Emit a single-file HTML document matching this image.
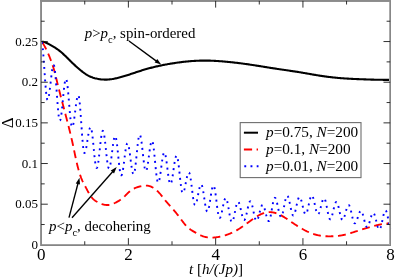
<!DOCTYPE html>
<html><head><meta charset="utf-8"><title>plot</title>
<style>
html,body{margin:0;padding:0;background:#fff;}
body{width:395px;height:278px;overflow:hidden;font-family:"Liberation Serif",serif;}
svg{display:block;will-change:transform;}
</style></head>
<body>
<svg width="395" height="278" viewBox="0 0 395 278" font-family="'Liberation Serif', serif" fill="#000">
<rect x="0" y="0" width="395" height="278" fill="#fff"/>
<g fill="none" stroke-linejoin="round">
<path d="M41.50 41.70 L42.37 41.74 L43.25 41.87 L44.12 42.07 L45.00 42.33 L45.87 42.65 L46.74 43.02 L47.62 43.44 L48.49 43.88 L49.37 44.35 L50.24 44.84 L51.11 45.34 L51.99 45.84 L52.86 46.35 L53.74 46.87 L54.61 47.41 L55.48 47.96 L56.36 48.53 L57.23 49.13 L58.10 49.75 L58.98 50.40 L59.85 51.08 L60.73 51.80 L61.60 52.54 L62.47 53.31 L63.35 54.11 L64.22 54.93 L65.10 55.77 L65.97 56.61 L66.84 57.47 L67.72 58.34 L68.59 59.21 L69.47 60.07 L70.34 60.93 L71.21 61.79 L72.09 62.64 L72.96 63.48 L73.84 64.30 L74.71 65.12 L75.58 65.93 L76.46 66.72 L77.33 67.51 L78.21 68.27 L79.08 69.02 L79.95 69.76 L80.83 70.48 L81.70 71.18 L82.57 71.86 L83.45 72.51 L84.32 73.15 L85.20 73.75 L86.07 74.32 L86.94 74.86 L87.82 75.37 L88.69 75.84 L89.57 76.28 L90.44 76.67 L91.31 77.04 L92.19 77.36 L93.06 77.66 L93.94 77.93 L94.81 78.18 L95.68 78.40 L96.56 78.60 L97.43 78.79 L98.31 78.95 L99.18 79.10 L100.05 79.23 L100.93 79.35 L101.80 79.44 L102.68 79.51 L103.55 79.57 L104.42 79.60 L105.30 79.61 L106.17 79.61 L107.05 79.58 L107.92 79.54 L108.79 79.47 L109.67 79.39 L110.54 79.30 L111.41 79.18 L112.29 79.06 L113.16 78.91 L114.04 78.75 L114.91 78.58 L115.78 78.40 L116.66 78.20 L117.53 78.00 L118.41 77.78 L119.28 77.55 L120.15 77.32 L121.03 77.08 L121.90 76.83 L122.78 76.57 L123.65 76.31 L124.52 76.05 L125.40 75.78 L126.27 75.50 L127.15 75.23 L128.02 74.95 L128.89 74.66 L129.77 74.38 L130.64 74.09 L131.52 73.80 L132.39 73.51 L133.26 73.22 L134.14 72.93 L135.01 72.64 L135.88 72.35 L136.76 72.06 L137.63 71.78 L138.51 71.49 L139.38 71.21 L140.25 70.93 L141.13 70.65 L142.00 70.37 L142.88 70.10 L143.75 69.83 L144.62 69.57 L145.50 69.31 L146.37 69.06 L147.25 68.81 L148.12 68.57 L148.99 68.33 L149.87 68.09 L150.74 67.86 L151.62 67.64 L152.49 67.42 L153.36 67.20 L154.24 66.99 L155.11 66.78 L155.99 66.57 L156.86 66.37 L157.73 66.18 L158.61 65.98 L159.48 65.79 L160.36 65.61 L161.23 65.43 L162.10 65.25 L162.98 65.07 L163.85 64.90 L164.72 64.73 L165.60 64.57 L166.47 64.41 L167.35 64.25 L168.22 64.09 L169.09 63.94 L169.97 63.79 L170.84 63.65 L171.72 63.50 L172.59 63.36 L173.46 63.22 L174.34 63.09 L175.21 62.96 L176.09 62.83 L176.96 62.70 L177.83 62.58 L178.71 62.46 L179.58 62.34 L180.46 62.22 L181.33 62.11 L182.20 62.00 L183.08 61.90 L183.95 61.80 L184.83 61.70 L185.70 61.61 L186.57 61.52 L187.45 61.43 L188.32 61.35 L189.19 61.27 L190.07 61.19 L190.94 61.12 L191.82 61.06 L192.69 61.00 L193.56 60.94 L194.44 60.89 L195.31 60.84 L196.19 60.79 L197.06 60.75 L197.93 60.72 L198.81 60.69 L199.68 60.66 L200.56 60.64 L201.43 60.62 L202.30 60.60 L203.18 60.59 L204.05 60.59 L204.93 60.59 L205.80 60.59 L206.67 60.60 L207.55 60.61 L208.42 60.62 L209.30 60.64 L210.17 60.67 L211.04 60.70 L211.92 60.73 L212.79 60.77 L213.67 60.80 L214.54 60.85 L215.41 60.89 L216.29 60.94 L217.16 61.00 L218.03 61.05 L218.91 61.11 L219.78 61.18 L220.66 61.24 L221.53 61.31 L222.40 61.38 L223.28 61.45 L224.15 61.53 L225.03 61.60 L225.90 61.68 L226.77 61.76 L227.65 61.85 L228.52 61.93 L229.40 62.02 L230.27 62.11 L231.14 62.20 L232.02 62.29 L232.89 62.39 L233.77 62.49 L234.64 62.59 L235.51 62.69 L236.39 62.79 L237.26 62.90 L238.14 63.00 L239.01 63.11 L239.88 63.22 L240.76 63.33 L241.63 63.45 L242.51 63.56 L243.38 63.68 L244.25 63.80 L245.13 63.92 L246.00 64.04 L246.87 64.16 L247.75 64.28 L248.62 64.41 L249.50 64.54 L250.37 64.67 L251.24 64.80 L252.12 64.93 L252.99 65.06 L253.87 65.19 L254.74 65.33 L255.61 65.47 L256.49 65.60 L257.36 65.74 L258.24 65.88 L259.11 66.02 L259.98 66.16 L260.86 66.30 L261.73 66.44 L262.61 66.58 L263.48 66.72 L264.35 66.86 L265.23 67.00 L266.10 67.14 L266.98 67.28 L267.85 67.42 L268.72 67.56 L269.60 67.70 L270.47 67.84 L271.34 67.98 L272.22 68.12 L273.09 68.25 L273.97 68.39 L274.84 68.52 L275.71 68.66 L276.59 68.79 L277.46 68.92 L278.34 69.05 L279.21 69.18 L280.08 69.31 L280.96 69.44 L281.83 69.57 L282.71 69.69 L283.58 69.82 L284.45 69.95 L285.33 70.07 L286.20 70.20 L287.08 70.33 L287.95 70.45 L288.82 70.58 L289.70 70.71 L290.57 70.84 L291.45 70.97 L292.32 71.10 L293.19 71.23 L294.07 71.36 L294.94 71.50 L295.82 71.63 L296.69 71.77 L297.56 71.91 L298.44 72.05 L299.31 72.19 L300.18 72.33 L301.06 72.48 L301.93 72.62 L302.81 72.77 L303.68 72.92 L304.55 73.07 L305.43 73.22 L306.30 73.38 L307.18 73.53 L308.05 73.68 L308.92 73.84 L309.80 73.99 L310.67 74.14 L311.55 74.29 L312.42 74.45 L313.29 74.60 L314.17 74.75 L315.04 74.90 L315.92 75.04 L316.79 75.19 L317.66 75.33 L318.54 75.47 L319.41 75.61 L320.29 75.74 L321.16 75.88 L322.03 76.01 L322.91 76.13 L323.78 76.26 L324.65 76.38 L325.53 76.50 L326.40 76.62 L327.28 76.73 L328.15 76.84 L329.02 76.95 L329.90 77.06 L330.77 77.16 L331.65 77.26 L332.52 77.36 L333.39 77.45 L334.27 77.54 L335.14 77.63 L336.02 77.72 L336.89 77.80 L337.76 77.89 L338.64 77.96 L339.51 78.04 L340.39 78.11 L341.26 78.19 L342.13 78.25 L343.01 78.32 L343.88 78.38 L344.76 78.44 L345.63 78.50 L346.50 78.56 L347.38 78.61 L348.25 78.66 L349.13 78.71 L350.00 78.76 L350.87 78.80 L351.75 78.84 L352.62 78.89 L353.49 78.93 L354.37 78.97 L355.24 79.00 L356.12 79.04 L356.99 79.08 L357.86 79.11 L358.74 79.15 L359.61 79.18 L360.49 79.22 L361.36 79.25 L362.23 79.29 L363.11 79.32 L363.98 79.36 L364.86 79.39 L365.73 79.42 L366.60 79.46 L367.48 79.49 L368.35 79.52 L369.23 79.55 L370.10 79.57 L370.97 79.60 L371.85 79.62 L372.72 79.65 L373.60 79.67 L374.47 79.69 L375.34 79.71 L376.22 79.72 L377.09 79.74 L377.96 79.76 L378.84 79.77 L379.71 79.78 L380.59 79.80 L381.46 79.81 L382.33 79.82 L383.21 79.83 L384.08 79.84 L384.96 79.85 L385.83 79.86 L386.70 79.87 L387.58 79.88 L388.45 79.88 L389.33 79.89 L390.20 79.90" stroke="#000" stroke-width="2.1"/>
<path d="M41.50 41.40 L41.94 41.98 L42.37 42.60 L42.81 43.24 L43.25 43.92 L43.68 44.63 L44.12 45.37 L44.55 46.14 L44.99 46.94 L45.43 47.77 L45.86 48.62 L46.30 49.50 L46.74 50.41 L47.17 51.35 L47.61 52.31 L48.05 53.29 L48.48 54.30 L48.92 55.34 L49.36 56.40 L49.79 57.48 L50.23 58.58 L50.66 59.71 L51.10 60.86 L51.54 62.06 L51.97 63.29 L52.41 64.57 L52.85 65.90 L53.28 67.29 L53.72 68.74 L54.16 70.25 L54.59 71.84 L55.03 73.50 L55.47 75.22 L55.90 76.98 L56.34 78.77 L56.77 80.56 L57.21 82.35 L57.65 84.13 L58.08 85.89 L58.52 87.63 L58.96 89.36 L59.39 91.08 L59.83 92.78 L60.27 94.48 L60.70 96.17 L61.14 97.85 L61.58 99.53 L62.01 101.20 L62.45 102.87 L62.88 104.53 L63.32 106.20 L63.76 107.86 L64.19 109.52 L64.63 111.18 L65.07 112.84 L65.50 114.51 L65.94 116.18 L66.38 117.85 L66.81 119.53 L67.25 121.22 L67.69 122.91 L68.12 124.62 L68.56 126.33 L68.99 128.06 L69.43 129.80 L69.87 131.57 L70.30 133.35 L70.74 135.16 L71.18 137.01 L71.61 138.89 L72.05 140.81 L72.49 142.78 L72.92 144.79 L73.36 146.84 L73.80 148.92 L74.23 151.02 L74.67 153.11 L75.10 155.19 L75.54 157.24 L75.98 159.26 L76.41 161.22 L76.85 163.12 L77.29 164.94 L77.72 166.70 L78.16 168.38 L78.60 169.99 L79.03 171.53 L79.47 172.99 L79.91 174.37 L80.34 175.67 L80.78 176.89 L81.21 178.03 L81.65 179.10 L82.09 180.11 L82.52 181.07 L82.96 181.99 L83.40 182.86 L83.83 183.72 L84.27 184.55 L84.71 185.37 L85.14 186.19 L85.58 187.02 L86.01 187.85 L86.45 188.68 L86.89 189.51 L87.32 190.33 L87.76 191.14 L88.20 191.94 L88.63 192.72 L89.07 193.48 L89.51 194.21 L89.94 194.92 L90.38 195.60 L90.82 196.24 L91.25 196.84 L91.69 197.39 L92.12 197.91 L92.56 198.39 L93.00 198.84 L93.43 199.25 L93.87 199.64 L94.31 200.00 L94.74 200.33 L95.18 200.65 L95.62 200.95 L96.05 201.23 L96.49 201.51 L96.93 201.77 L97.36 202.02 L97.80 202.27 L98.23 202.50 L98.67 202.72 L99.11 202.93 L99.54 203.13 L99.98 203.32 L100.42 203.51 L100.85 203.68 L101.29 203.85 L101.73 204.00 L102.16 204.15 L102.60 204.28 L103.04 204.41 L103.47 204.52 L103.91 204.62 L104.34 204.72 L104.78 204.80 L105.22 204.87 L105.65 204.92 L106.09 204.97 L106.53 205.00 L106.96 205.02 L107.40 205.03 L107.84 205.02 L108.27 205.00 L108.71 204.97 L109.15 204.92 L109.58 204.86 L110.02 204.78 L110.45 204.69 L110.89 204.58 L111.33 204.45 L111.76 204.31 L112.20 204.16 L112.64 203.99 L113.07 203.81 L113.51 203.62 L113.95 203.42 L114.38 203.21 L114.82 203.00 L115.26 202.78 L115.69 202.55 L116.13 202.33 L116.56 202.10 L117.00 201.87 L117.44 201.63 L117.87 201.39 L118.31 201.14 L118.75 200.88 L119.18 200.61 L119.62 200.34 L120.06 200.05 L120.49 199.76 L120.93 199.45 L121.36 199.13 L121.80 198.79 L122.24 198.45 L122.67 198.08 L123.11 197.70 L123.55 197.31 L123.98 196.90 L124.42 196.48 L124.86 196.05 L125.29 195.61 L125.73 195.17 L126.17 194.73 L126.60 194.29 L127.04 193.85 L127.47 193.42 L127.91 193.00 L128.35 192.58 L128.78 192.18 L129.22 191.80 L129.66 191.43 L130.09 191.07 L130.53 190.74 L130.97 190.41 L131.40 190.11 L131.84 189.82 L132.28 189.54 L132.71 189.27 L133.15 189.02 L133.58 188.78 L134.02 188.56 L134.46 188.34 L134.89 188.14 L135.33 187.94 L135.77 187.76 L136.20 187.59 L136.64 187.42 L137.08 187.27 L137.51 187.12 L137.95 186.99 L138.39 186.86 L138.82 186.73 L139.26 186.62 L139.69 186.51 L140.13 186.41 L140.57 186.31 L141.00 186.22 L141.44 186.14 L141.88 186.06 L142.31 185.98 L142.75 185.91 L143.19 185.84 L143.62 185.78 L144.06 185.72 L144.50 185.67 L144.93 185.63 L145.37 185.60 L145.80 185.58 L146.24 185.58 L146.68 185.59 L147.11 185.62 L147.55 185.67 L147.99 185.74 L148.42 185.82 L148.86 185.92 L149.30 186.03 L149.73 186.16 L150.17 186.31 L150.61 186.47 L151.04 186.65 L151.48 186.85 L151.91 187.06 L152.35 187.29 L152.79 187.53 L153.22 187.79 L153.66 188.06 L154.10 188.35 L154.53 188.66 L154.97 188.97 L155.41 189.31 L155.84 189.66 L156.28 190.02 L156.72 190.40 L157.15 190.80 L157.59 191.21 L158.02 191.64 L158.46 192.08 L158.90 192.54 L159.33 193.01 L159.77 193.51 L160.21 194.01 L160.64 194.53 L161.08 195.06 L161.52 195.60 L161.95 196.15 L162.39 196.71 L162.82 197.26 L163.26 197.83 L163.70 198.39 L164.13 198.95 L164.57 199.51 L165.01 200.06 L165.44 200.61 L165.88 201.14 L166.32 201.67 L166.75 202.20 L167.19 202.71 L167.63 203.22 L168.06 203.73 L168.50 204.23 L168.93 204.72 L169.37 205.21 L169.81 205.70 L170.24 206.19 L170.68 206.68 L171.12 207.16 L171.55 207.65 L171.99 208.14 L172.43 208.62 L172.86 209.12 L173.30 209.61 L173.74 210.11 L174.17 210.61 L174.61 211.12 L175.04 211.63 L175.48 212.15 L175.92 212.67 L176.35 213.21 L176.79 213.75 L177.23 214.30 L177.66 214.85 L178.10 215.42 L178.54 215.99 L178.97 216.58 L179.41 217.16 L179.85 217.75 L180.28 218.35 L180.72 218.94 L181.15 219.53 L181.59 220.12 L182.03 220.71 L182.46 221.29 L182.90 221.86 L183.34 222.43 L183.77 222.98 L184.21 223.53 L184.65 224.06 L185.08 224.57 L185.52 225.07 L185.96 225.55 L186.39 226.01 L186.83 226.46 L187.26 226.88 L187.70 227.29 L188.14 227.68 L188.57 228.06 L189.01 228.42 L189.45 228.77 L189.88 229.10 L190.32 229.42 L190.76 229.74 L191.19 230.04 L191.63 230.33 L192.07 230.61 L192.50 230.88 L192.94 231.15 L193.37 231.41 L193.81 231.67 L194.25 231.92 L194.68 232.16 L195.12 232.41 L195.56 232.65 L195.99 232.89 L196.43 233.13 L196.87 233.36 L197.30 233.60 L197.74 233.84 L198.17 234.07 L198.61 234.30 L199.05 234.52 L199.48 234.74 L199.92 234.96 L200.36 235.17 L200.79 235.37 L201.23 235.57 L201.67 235.75 L202.10 235.93 L202.54 236.10 L202.98 236.26 L203.41 236.41 L203.85 236.55 L204.28 236.68 L204.72 236.80 L205.16 236.91 L205.59 237.02 L206.03 237.11 L206.47 237.19 L206.90 237.27 L207.34 237.34 L207.78 237.40 L208.21 237.45 L208.65 237.49 L209.09 237.53 L209.52 237.56 L209.96 237.58 L210.39 237.60 L210.83 237.61 L211.27 237.61 L211.70 237.61 L212.14 237.60 L212.58 237.59 L213.01 237.57 L213.45 237.55 L213.89 237.52 L214.32 237.49 L214.76 237.45 L215.20 237.41 L215.63 237.37 L216.07 237.32 L216.50 237.26 L216.94 237.21 L217.38 237.14 L217.81 237.08 L218.25 237.01 L218.69 236.93 L219.12 236.85 L219.56 236.77 L220.00 236.68 L220.43 236.59 L220.87 236.49 L221.31 236.39 L221.74 236.29 L222.18 236.18 L222.61 236.07 L223.05 235.96 L223.49 235.84 L223.92 235.71 L224.36 235.58 L224.80 235.45 L225.23 235.32 L225.67 235.18 L226.11 235.03 L226.54 234.89 L226.98 234.74 L227.42 234.58 L227.85 234.42 L228.29 234.26 L228.72 234.09 L229.16 233.92 L229.60 233.75 L230.03 233.57 L230.47 233.38 L230.91 233.19 L231.34 233.00 L231.78 232.81 L232.22 232.61 L232.65 232.40 L233.09 232.19 L233.53 231.98 L233.96 231.76 L234.40 231.54 L234.83 231.31 L235.27 231.08 L235.71 230.84 L236.14 230.60 L236.58 230.35 L237.02 230.10 L237.45 229.85 L237.89 229.59 L238.33 229.32 L238.76 229.05 L239.20 228.78 L239.63 228.50 L240.07 228.22 L240.51 227.93 L240.94 227.64 L241.38 227.35 L241.82 227.05 L242.25 226.75 L242.69 226.45 L243.13 226.15 L243.56 225.84 L244.00 225.53 L244.44 225.22 L244.87 224.90 L245.31 224.59 L245.74 224.27 L246.18 223.95 L246.62 223.64 L247.05 223.32 L247.49 223.00 L247.93 222.68 L248.36 222.36 L248.80 222.03 L249.24 221.71 L249.67 221.39 L250.11 221.08 L250.55 220.76 L250.98 220.44 L251.42 220.13 L251.85 219.81 L252.29 219.50 L252.73 219.19 L253.16 218.88 L253.60 218.58 L254.04 218.28 L254.47 217.98 L254.91 217.69 L255.35 217.40 L255.78 217.12 L256.22 216.84 L256.66 216.56 L257.09 216.29 L257.53 216.03 L257.96 215.78 L258.40 215.53 L258.84 215.29 L259.27 215.05 L259.71 214.82 L260.15 214.60 L260.58 214.39 L261.02 214.19 L261.46 214.00 L261.89 213.81 L262.33 213.64 L262.77 213.47 L263.20 213.32 L263.64 213.17 L264.07 213.03 L264.51 212.90 L264.95 212.78 L265.38 212.67 L265.82 212.57 L266.26 212.49 L266.69 212.41 L267.13 212.34 L267.57 212.28 L268.00 212.23 L268.44 212.19 L268.88 212.16 L269.31 212.14 L269.75 212.14 L270.18 212.14 L270.62 212.16 L271.06 212.18 L271.49 212.22 L271.93 212.26 L272.37 212.32 L272.80 212.39 L273.24 212.47 L273.68 212.56 L274.11 212.66 L274.55 212.77 L274.98 212.88 L275.42 213.01 L275.86 213.15 L276.29 213.29 L276.73 213.44 L277.17 213.61 L277.60 213.78 L278.04 213.96 L278.48 214.14 L278.91 214.34 L279.35 214.54 L279.79 214.75 L280.22 214.96 L280.66 215.18 L281.09 215.41 L281.53 215.65 L281.97 215.89 L282.40 216.13 L282.84 216.39 L283.28 216.64 L283.71 216.91 L284.15 217.17 L284.59 217.44 L285.02 217.72 L285.46 218.00 L285.90 218.28 L286.33 218.56 L286.77 218.85 L287.20 219.14 L287.64 219.43 L288.08 219.73 L288.51 220.02 L288.95 220.32 L289.39 220.62 L289.82 220.92 L290.26 221.22 L290.70 221.52 L291.13 221.82 L291.57 222.12 L292.01 222.42 L292.44 222.72 L292.88 223.02 L293.31 223.31 L293.75 223.61 L294.19 223.90 L294.62 224.19 L295.06 224.48 L295.50 224.77 L295.93 225.05 L296.37 225.34 L296.81 225.62 L297.24 225.90 L297.68 226.17 L298.12 226.45 L298.55 226.72 L298.99 226.99 L299.42 227.25 L299.86 227.52 L300.30 227.78 L300.73 228.04 L301.17 228.29 L301.61 228.55 L302.04 228.79 L302.48 229.04 L302.92 229.28 L303.35 229.52 L303.79 229.76 L304.23 229.99 L304.66 230.22 L305.10 230.45 L305.53 230.67 L305.97 230.88 L306.41 231.10 L306.84 231.31 L307.28 231.51 L307.72 231.72 L308.15 231.92 L308.59 232.11 L309.03 232.30 L309.46 232.49 L309.90 232.67 L310.34 232.84 L310.77 233.02 L311.21 233.19 L311.64 233.35 L312.08 233.51 L312.52 233.67 L312.95 233.82 L313.39 233.97 L313.83 234.11 L314.26 234.25 L314.70 234.38 L315.14 234.51 L315.57 234.63 L316.01 234.75 L316.44 234.87 L316.88 234.98 L317.32 235.08 L317.75 235.18 L318.19 235.28 L318.63 235.37 L319.06 235.45 L319.50 235.53 L319.94 235.61 L320.37 235.68 L320.81 235.75 L321.25 235.81 L321.68 235.87 L322.12 235.92 L322.55 235.97 L322.99 236.02 L323.43 236.06 L323.86 236.10 L324.30 236.14 L324.74 236.17 L325.17 236.20 L325.61 236.22 L326.05 236.24 L326.48 236.26 L326.92 236.28 L327.36 236.29 L327.79 236.30 L328.23 236.31 L328.66 236.31 L329.10 236.32 L329.54 236.32 L329.97 236.31 L330.41 236.31 L330.85 236.30 L331.28 236.29 L331.72 236.28 L332.16 236.27 L332.59 236.26 L333.03 236.24 L333.47 236.22 L333.90 236.20 L334.34 236.18 L334.77 236.15 L335.21 236.13 L335.65 236.09 L336.08 236.06 L336.52 236.02 L336.96 235.99 L337.39 235.94 L337.83 235.90 L338.27 235.85 L338.70 235.80 L339.14 235.75 L339.58 235.69 L340.01 235.63 L340.45 235.57 L340.88 235.50 L341.32 235.43 L341.76 235.35 L342.19 235.28 L342.63 235.19 L343.07 235.11 L343.50 235.02 L343.94 234.93 L344.38 234.83 L344.81 234.73 L345.25 234.63 L345.69 234.52 L346.12 234.41 L346.56 234.29 L346.99 234.18 L347.43 234.06 L347.87 233.93 L348.30 233.81 L348.74 233.68 L349.18 233.55 L349.61 233.42 L350.05 233.29 L350.49 233.15 L350.92 233.02 L351.36 232.88 L351.79 232.74 L352.23 232.60 L352.67 232.46 L353.10 232.31 L353.54 232.17 L353.98 232.03 L354.41 231.88 L354.85 231.74 L355.29 231.59 L355.72 231.45 L356.16 231.30 L356.60 231.16 L357.03 231.01 L357.47 230.87 L357.90 230.73 L358.34 230.59 L358.78 230.45 L359.21 230.31 L359.65 230.17 L360.09 230.03 L360.52 229.89 L360.96 229.76 L361.40 229.62 L361.83 229.49 L362.27 229.35 L362.71 229.22 L363.14 229.09 L363.58 228.95 L364.01 228.82 L364.45 228.69 L364.89 228.56 L365.32 228.44 L365.76 228.31 L366.20 228.18 L366.63 228.05 L367.07 227.92 L367.51 227.80 L367.94 227.67 L368.38 227.55 L368.82 227.42 L369.25 227.30 L369.69 227.17 L370.12 227.05 L370.56 226.92 L371.00 226.80 L371.43 226.68 L371.87 226.55 L372.31 226.43 L372.74 226.31 L373.18 226.19 L373.62 226.07 L374.05 225.95 L374.49 225.83 L374.93 225.71 L375.36 225.60 L375.80 225.49 L376.23 225.37 L376.67 225.26 L377.11 225.16 L377.54 225.05 L377.98 224.95 L378.42 224.84 L378.85 224.75 L379.29 224.65 L379.73 224.56 L380.16 224.47 L380.60 224.38 L381.04 224.29 L381.47 224.21 L381.91 224.13 L382.34 224.06 L382.78 223.99 L383.22 223.92 L383.65 223.86 L384.09 223.80 L384.53 223.75 L384.96 223.70 L385.40 223.66 L385.84 223.62 L386.27 223.58 L386.71 223.55 L387.15 223.52 L387.58 223.50 L388.02 223.49 L388.45 223.48 L388.89 223.48 L389.33 223.48 L389.76 223.49 L390.20 223.50" stroke="#f00" stroke-width="1.85" stroke-dasharray="7.9 4.64" stroke-dashoffset="-1.4"/>
<path d="M41.40 41.40 L41.66 41.65 L41.91 42.40 L42.17 43.63 L42.42 45.32 L42.68 47.44 L42.94 49.97 L43.19 52.84 L43.45 56.02 L43.70 59.46 L43.96 63.08 L44.22 66.83 L44.47 70.65 L44.73 74.47 L44.98 78.22 L45.24 81.84 L45.50 85.28 L45.75 88.46 L46.01 91.33 L46.26 93.86 L46.52 95.98 L46.78 97.67 L47.03 98.90 L47.29 99.65 L47.55 99.90 L47.80 99.75 L48.06 99.31 L48.31 98.58 L48.57 97.57 L48.83 96.30 L49.08 94.80 L49.34 93.09 L49.59 91.20 L49.85 89.16 L50.11 87.00 L50.36 84.77 L50.62 82.50 L50.87 80.23 L51.13 78.00 L51.39 75.84 L51.64 73.80 L51.90 71.91 L52.15 70.20 L52.41 68.70 L52.67 67.43 L52.92 66.42 L53.18 65.69 L53.43 65.25 L53.69 65.10 L53.95 65.34 L54.20 66.05 L54.46 67.21 L54.71 68.82 L54.97 70.83 L55.23 73.23 L55.48 75.96 L55.74 78.97 L55.99 82.23 L56.25 85.67 L56.51 89.23 L56.76 92.85 L57.02 96.47 L57.27 100.03 L57.53 103.47 L57.79 106.72 L58.04 109.74 L58.30 112.47 L58.55 114.87 L58.81 116.88 L59.07 118.49 L59.32 119.65 L59.58 120.36 L59.83 120.60 L60.09 120.42 L60.35 119.89 L60.60 119.01 L60.86 117.81 L61.12 116.29 L61.37 114.49 L61.63 112.44 L61.88 110.17 L62.14 107.73 L62.40 105.15 L62.65 102.47 L62.91 99.75 L63.16 97.03 L63.42 94.35 L63.68 91.77 L63.93 89.33 L64.19 87.06 L64.44 85.01 L64.70 83.21 L64.96 81.69 L65.21 80.49 L65.47 79.61 L65.72 79.08 L65.98 78.90 L66.24 79.11 L66.49 79.72 L66.75 80.73 L67.00 82.12 L67.26 83.87 L67.52 85.94 L67.77 88.31 L68.03 90.92 L68.28 93.75 L68.54 96.73 L68.80 99.81 L69.05 102.95 L69.31 106.09 L69.56 109.17 L69.82 112.15 L70.08 114.97 L70.33 117.59 L70.59 119.96 L70.84 122.03 L71.10 123.78 L71.36 125.17 L71.61 126.18 L71.87 126.79 L72.12 127.00 L72.38 126.86 L72.64 126.46 L72.89 125.79 L73.15 124.88 L73.41 123.72 L73.66 122.36 L73.92 120.80 L74.17 119.08 L74.43 117.22 L74.69 115.25 L74.94 113.22 L75.20 111.15 L75.45 109.08 L75.71 107.05 L75.97 105.08 L76.22 103.22 L76.48 101.50 L76.73 99.94 L76.99 98.58 L77.25 97.42 L77.50 96.51 L77.76 95.84 L78.01 95.44 L78.27 95.30 L78.53 95.55 L78.78 96.28 L79.04 97.50 L79.29 99.17 L79.55 101.26 L79.81 103.75 L80.06 106.59 L80.32 109.72 L80.57 113.11 L80.83 116.68 L81.09 120.38 L81.34 124.15 L81.60 127.92 L81.85 131.62 L82.11 135.19 L82.37 138.57 L82.62 141.71 L82.88 144.55 L83.13 147.04 L83.39 149.13 L83.65 150.80 L83.90 152.02 L84.16 152.75 L84.41 153.00 L84.67 152.89 L84.93 152.56 L85.18 152.02 L85.44 151.27 L85.70 150.33 L85.95 149.22 L86.21 147.95 L86.46 146.55 L86.72 145.04 L86.98 143.44 L87.23 141.78 L87.49 140.10 L87.74 138.42 L88.00 136.76 L88.26 135.16 L88.51 133.65 L88.77 132.25 L89.02 130.98 L89.28 129.87 L89.54 128.93 L89.79 128.18 L90.05 127.64 L90.30 127.31 L90.56 127.20 L90.82 127.37 L91.07 127.90 L91.33 128.75 L91.58 129.93 L91.84 131.42 L92.10 133.18 L92.35 135.18 L92.61 137.40 L92.86 139.79 L93.12 142.32 L93.38 144.94 L93.63 147.60 L93.89 150.26 L94.14 152.88 L94.40 155.41 L94.66 157.80 L94.91 160.02 L95.17 162.02 L95.42 163.78 L95.68 165.27 L95.94 166.45 L96.19 167.30 L96.45 167.83 L96.70 168.00 L96.96 167.84 L97.22 167.37 L97.47 166.58 L97.73 165.51 L97.99 164.16 L98.24 162.55 L98.50 160.72 L98.75 158.70 L99.01 156.52 L99.27 154.21 L99.52 151.83 L99.78 149.40 L100.03 146.97 L100.29 144.59 L100.55 142.28 L100.80 140.10 L101.06 138.08 L101.31 136.25 L101.57 134.64 L101.83 133.29 L102.08 132.22 L102.34 131.43 L102.59 130.96 L102.85 130.80 L103.11 130.96 L103.36 131.44 L103.62 132.23 L103.87 133.32 L104.13 134.68 L104.39 136.31 L104.64 138.16 L104.90 140.20 L105.15 142.41 L105.41 144.73 L105.67 147.15 L105.92 149.60 L106.18 152.05 L106.43 154.47 L106.69 156.79 L106.95 159.00 L107.20 161.04 L107.46 162.89 L107.71 164.52 L107.97 165.88 L108.23 166.97 L108.48 167.76 L108.74 168.24 L109.00 168.40 L109.25 168.26 L109.51 167.85 L109.76 167.17 L110.02 166.24 L110.28 165.06 L110.53 163.67 L110.79 162.08 L111.04 160.33 L111.30 158.43 L111.56 156.43 L111.81 154.36 L112.07 152.25 L112.32 150.14 L112.58 148.07 L112.84 146.07 L113.09 144.18 L113.35 142.42 L113.60 140.83 L113.86 139.44 L114.12 138.26 L114.37 137.33 L114.63 136.65 L114.88 136.24 L115.14 136.10 L115.40 136.27 L115.65 136.77 L115.91 137.60 L116.16 138.73 L116.42 140.16 L116.68 141.86 L116.93 143.79 L117.19 145.92 L117.44 148.23 L117.70 150.66 L117.96 153.19 L118.21 155.75 L118.47 158.31 L118.72 160.84 L118.98 163.27 L119.24 165.57 L119.49 167.71 L119.75 169.64 L120.00 171.34 L120.26 172.77 L120.52 173.90 L120.77 174.73 L121.03 175.23 L121.28 175.40 L121.54 175.26 L121.80 174.85 L122.05 174.18 L122.31 173.26 L122.57 172.09 L122.82 170.71 L123.08 169.14 L123.33 167.40 L123.59 165.52 L123.85 163.54 L124.10 161.49 L124.36 159.40 L124.61 157.31 L124.87 155.26 L125.13 153.28 L125.38 151.40 L125.64 149.66 L125.89 148.09 L126.15 146.71 L126.41 145.54 L126.66 144.62 L126.92 143.95 L127.17 143.54 L127.43 143.40 L127.69 143.53 L127.94 143.92 L128.20 144.57 L128.45 145.46 L128.71 146.58 L128.97 147.91 L129.22 149.43 L129.48 151.10 L129.73 152.91 L129.99 154.81 L130.25 156.79 L130.50 158.80 L130.76 160.81 L131.01 162.79 L131.27 164.69 L131.53 166.50 L131.78 168.17 L132.04 169.69 L132.29 171.02 L132.55 172.14 L132.81 173.03 L133.06 173.68 L133.32 174.07 L133.57 174.20 L133.83 174.03 L134.09 173.53 L134.34 172.70 L134.60 171.56 L134.86 170.13 L135.11 168.43 L135.37 166.49 L135.62 164.35 L135.88 162.04 L136.14 159.60 L136.39 157.07 L136.65 154.50 L136.90 151.93 L137.16 149.40 L137.42 146.96 L137.67 144.65 L137.93 142.51 L138.18 140.57 L138.44 138.87 L138.70 137.44 L138.95 136.30 L139.21 135.47 L139.46 134.97 L139.72 134.80 L139.98 134.95 L140.23 135.42 L140.49 136.18 L140.74 137.22 L141.00 138.54 L141.26 140.10 L141.51 141.88 L141.77 143.85 L142.02 145.97 L142.28 148.22 L142.54 150.54 L142.79 152.90 L143.05 155.26 L143.30 157.58 L143.56 159.83 L143.82 161.95 L144.07 163.92 L144.33 165.70 L144.58 167.26 L144.84 168.58 L145.10 169.62 L145.35 170.38 L145.61 170.85 L145.86 171.00 L146.12 170.87 L146.38 170.49 L146.63 169.85 L146.89 168.98 L147.15 167.89 L147.40 166.59 L147.66 165.11 L147.91 163.47 L148.17 161.71 L148.43 159.85 L148.68 157.91 L148.94 155.95 L149.19 153.99 L149.45 152.05 L149.71 150.19 L149.96 148.43 L150.22 146.79 L150.47 145.31 L150.73 144.01 L150.99 142.92 L151.24 142.05 L151.50 141.41 L151.75 141.03 L152.01 140.90 L152.27 141.08 L152.52 141.61 L152.78 142.49 L153.03 143.69 L153.29 145.21 L153.55 147.01 L153.80 149.06 L154.06 151.32 L154.31 153.77 L154.57 156.35 L154.83 159.03 L155.08 161.75 L155.34 164.47 L155.59 167.15 L155.85 169.73 L156.11 172.17 L156.36 174.44 L156.62 176.49 L156.87 178.29 L157.13 179.81 L157.39 181.01 L157.64 181.89 L157.90 182.42 L158.16 182.60 L158.41 182.47 L158.67 182.09 L158.92 181.45 L159.18 180.58 L159.44 179.49 L159.69 178.19 L159.95 176.71 L160.20 175.07 L160.46 173.31 L160.72 171.45 L160.97 169.51 L161.23 167.55 L161.48 165.59 L161.74 163.65 L162.00 161.79 L162.25 160.03 L162.51 158.39 L162.76 156.91 L163.02 155.61 L163.28 154.52 L163.53 153.65 L163.79 153.01 L164.04 152.63 L164.30 152.50 L164.56 152.63 L164.81 153.04 L165.07 153.70 L165.32 154.61 L165.58 155.75 L165.84 157.11 L166.09 158.66 L166.35 160.38 L166.60 162.22 L166.86 164.17 L167.12 166.19 L167.37 168.25 L167.63 170.31 L167.88 172.33 L168.14 174.28 L168.40 176.12 L168.65 177.84 L168.91 179.39 L169.16 180.75 L169.42 181.89 L169.68 182.80 L169.93 183.46 L170.19 183.87 L170.44 184.00 L170.70 183.88 L170.96 183.52 L171.21 182.92 L171.47 182.10 L171.73 181.08 L171.98 179.86 L172.24 178.46 L172.49 176.93 L172.75 175.26 L173.01 173.51 L173.26 171.70 L173.52 169.85 L173.77 168.00 L174.03 166.19 L174.29 164.44 L174.54 162.78 L174.80 161.24 L175.05 159.84 L175.31 158.62 L175.57 157.60 L175.82 156.78 L176.08 156.18 L176.33 155.82 L176.59 155.70 L176.85 155.86 L177.10 156.34 L177.36 157.12 L177.61 158.20 L177.87 159.55 L178.13 161.16 L178.38 163.00 L178.64 165.02 L178.89 167.21 L179.15 169.52 L179.41 171.92 L179.66 174.35 L179.92 176.78 L180.17 179.18 L180.43 181.49 L180.69 183.67 L180.94 185.70 L181.20 187.54 L181.45 189.15 L181.71 190.50 L181.97 191.58 L182.22 192.36 L182.48 192.84 L182.73 193.00 L182.99 192.91 L183.25 192.65 L183.50 192.22 L183.76 191.63 L184.02 190.88 L184.27 190.00 L184.53 188.99 L184.78 187.88 L185.04 186.67 L185.30 185.40 L185.55 184.09 L185.81 182.75 L186.06 181.41 L186.32 180.10 L186.58 178.83 L186.83 177.62 L187.09 176.51 L187.34 175.50 L187.60 174.62 L187.86 173.87 L188.11 173.28 L188.37 172.85 L188.62 172.59 L188.88 172.50 L189.14 172.64 L189.39 173.05 L189.65 173.74 L189.90 174.68 L190.16 175.86 L190.42 177.26 L190.67 178.86 L190.93 180.62 L191.18 182.53 L191.44 184.54 L191.70 186.63 L191.95 188.75 L192.21 190.87 L192.46 192.96 L192.72 194.97 L192.98 196.88 L193.23 198.64 L193.49 200.24 L193.74 201.64 L194.00 202.82 L194.26 203.76 L194.51 204.45 L194.77 204.86 L195.03 205.00 L195.28 204.91 L195.54 204.65 L195.79 204.22 L196.05 203.62 L196.31 202.87 L196.56 201.98 L196.82 200.97 L197.07 199.85 L197.33 198.64 L197.59 197.37 L197.84 196.04 L198.10 194.70 L198.35 193.36 L198.61 192.03 L198.87 190.76 L199.12 189.55 L199.38 188.43 L199.63 187.42 L199.89 186.53 L200.15 185.78 L200.40 185.18 L200.66 184.75 L200.91 184.49 L201.17 184.40 L201.43 184.52 L201.68 184.86 L201.94 185.44 L202.19 186.22 L202.45 187.21 L202.71 188.38 L202.96 189.72 L203.22 191.20 L203.47 192.80 L203.73 194.48 L203.99 196.22 L204.24 198.00 L204.50 199.78 L204.75 201.52 L205.01 203.20 L205.27 204.80 L205.52 206.28 L205.78 207.62 L206.03 208.79 L206.29 209.78 L206.55 210.56 L206.80 211.14 L207.06 211.48 L207.31 211.60 L207.57 211.49 L207.83 211.16 L208.08 210.61 L208.34 209.86 L208.60 208.91 L208.85 207.79 L209.11 206.51 L209.36 205.10 L209.62 203.57 L209.88 201.96 L210.13 200.30 L210.39 198.60 L210.64 196.90 L210.90 195.24 L211.16 193.63 L211.41 192.10 L211.67 190.69 L211.92 189.41 L212.18 188.29 L212.44 187.34 L212.69 186.59 L212.95 186.04 L213.20 185.71 L213.46 185.60 L213.72 185.74 L213.97 186.15 L214.23 186.83 L214.48 187.77 L214.74 188.95 L215.00 190.34 L215.25 191.94 L215.51 193.70 L215.76 195.60 L216.02 197.61 L216.28 199.69 L216.53 201.80 L216.79 203.91 L217.04 205.99 L217.30 208.00 L217.56 209.90 L217.81 211.66 L218.07 213.26 L218.32 214.65 L218.58 215.83 L218.84 216.77 L219.09 217.45 L219.35 217.86 L219.60 218.00 L219.86 217.91 L220.12 217.66 L220.37 217.24 L220.63 216.66 L220.89 215.93 L221.14 215.07 L221.40 214.09 L221.65 213.00 L221.91 211.83 L222.17 210.59 L222.42 209.31 L222.68 208.00 L222.93 206.69 L223.19 205.41 L223.45 204.17 L223.70 203.00 L223.96 201.91 L224.21 200.93 L224.47 200.07 L224.73 199.34 L224.98 198.76 L225.24 198.34 L225.49 198.09 L225.75 198.00 L226.01 198.10 L226.26 198.41 L226.52 198.91 L226.77 199.61 L227.03 200.48 L227.29 201.51 L227.54 202.69 L227.80 204.00 L228.05 205.41 L228.31 206.89 L228.57 208.43 L228.82 210.00 L229.08 211.57 L229.33 213.11 L229.59 214.59 L229.85 216.00 L230.10 217.31 L230.36 218.49 L230.61 219.52 L230.87 220.39 L231.13 221.09 L231.38 221.59 L231.64 221.90 L231.89 222.00 L232.15 221.91 L232.41 221.66 L232.66 221.23 L232.92 220.65 L233.18 219.91 L233.43 219.04 L233.69 218.05 L233.94 216.95 L234.20 215.77 L234.46 214.51 L234.71 213.22 L234.97 211.90 L235.22 210.58 L235.48 209.29 L235.74 208.03 L235.99 206.85 L236.25 205.75 L236.50 204.76 L236.76 203.89 L237.02 203.15 L237.27 202.57 L237.53 202.14 L237.78 201.89 L238.04 201.80 L238.30 201.88 L238.55 202.11 L238.81 202.49 L239.06 203.02 L239.32 203.68 L239.58 204.47 L239.83 205.36 L240.09 206.35 L240.34 207.42 L240.60 208.54 L240.86 209.71 L241.11 210.90 L241.37 212.09 L241.62 213.26 L241.88 214.38 L242.14 215.45 L242.39 216.44 L242.65 217.33 L242.90 218.12 L243.16 218.78 L243.42 219.31 L243.67 219.69 L243.93 219.92 L244.19 220.00 L244.44 219.92 L244.70 219.68 L244.95 219.29 L245.21 218.75 L245.47 218.07 L245.72 217.26 L245.98 216.34 L246.23 215.33 L246.49 214.23 L246.75 213.07 L247.00 211.87 L247.26 210.65 L247.51 209.43 L247.77 208.23 L248.03 207.07 L248.28 205.98 L248.54 204.96 L248.79 204.04 L249.05 203.23 L249.31 202.55 L249.56 202.01 L249.82 201.62 L250.07 201.38 L250.33 201.30 L250.59 201.38 L250.84 201.63 L251.10 202.04 L251.35 202.60 L251.61 203.30 L251.87 204.14 L252.12 205.10 L252.38 206.15 L252.63 207.29 L252.89 208.49 L253.15 209.73 L253.40 211.00 L253.66 212.27 L253.91 213.51 L254.17 214.71 L254.43 215.85 L254.68 216.90 L254.94 217.86 L255.19 218.70 L255.45 219.40 L255.71 219.96 L255.96 220.37 L256.22 220.62 L256.47 220.70 L256.73 220.63 L256.99 220.43 L257.24 220.10 L257.50 219.64 L257.76 219.07 L258.01 218.39 L258.27 217.61 L258.52 216.75 L258.78 215.82 L259.04 214.84 L259.29 213.83 L259.55 212.80 L259.80 211.77 L260.06 210.76 L260.32 209.78 L260.57 208.85 L260.83 207.99 L261.08 207.21 L261.34 206.53 L261.60 205.96 L261.85 205.50 L262.11 205.17 L262.36 204.97 L262.62 204.90 L262.88 204.97 L263.13 205.18 L263.39 205.52 L263.64 205.99 L263.90 206.57 L264.16 207.27 L264.41 208.07 L264.67 208.95 L264.92 209.90 L265.18 210.90 L265.44 211.94 L265.69 213.00 L265.95 214.06 L266.20 215.10 L266.46 216.10 L266.72 217.05 L266.97 217.93 L267.23 218.73 L267.48 219.43 L267.74 220.01 L268.00 220.48 L268.25 220.82 L268.51 221.03 L268.76 221.10 L269.02 221.00 L269.28 220.70 L269.53 220.21 L269.79 219.54 L270.05 218.69 L270.30 217.69 L270.56 216.54 L270.81 215.28 L271.07 213.91 L271.33 212.47 L271.58 210.97 L271.84 209.45 L272.09 207.93 L272.35 206.43 L272.61 204.99 L272.86 203.62 L273.12 202.36 L273.37 201.21 L273.63 200.21 L273.89 199.36 L274.14 198.69 L274.40 198.20 L274.65 197.90 L274.91 197.80 L275.17 197.88 L275.42 198.12 L275.68 198.52 L275.93 199.07 L276.19 199.76 L276.45 200.58 L276.70 201.52 L276.96 202.55 L277.21 203.66 L277.47 204.84 L277.73 206.06 L277.98 207.30 L278.24 208.54 L278.49 209.76 L278.75 210.94 L279.01 212.05 L279.26 213.08 L279.52 214.02 L279.77 214.84 L280.03 215.53 L280.29 216.08 L280.54 216.48 L280.80 216.72 L281.05 216.80 L281.31 216.71 L281.57 216.44 L281.82 216.00 L282.08 215.39 L282.34 214.63 L282.59 213.72 L282.85 212.69 L283.10 211.55 L283.36 210.32 L283.62 209.02 L283.87 207.67 L284.13 206.30 L284.38 204.93 L284.64 203.58 L284.90 202.28 L285.15 201.05 L285.41 199.91 L285.66 198.88 L285.92 197.97 L286.18 197.21 L286.43 196.60 L286.69 196.16 L286.94 195.89 L287.20 195.80 L287.46 195.88 L287.71 196.14 L287.97 196.55 L288.22 197.12 L288.48 197.84 L288.74 198.68 L288.99 199.65 L289.25 200.72 L289.50 201.88 L289.76 203.10 L290.02 204.36 L290.27 205.65 L290.53 206.94 L290.78 208.20 L291.04 209.42 L291.30 210.57 L291.55 211.65 L291.81 212.62 L292.06 213.46 L292.32 214.18 L292.58 214.75 L292.83 215.16 L293.09 215.42 L293.34 215.50 L293.60 215.42 L293.86 215.18 L294.11 214.80 L294.37 214.26 L294.63 213.59 L294.88 212.79 L295.14 211.88 L295.39 210.88 L295.65 209.79 L295.91 208.64 L296.16 207.46 L296.42 206.25 L296.67 205.04 L296.93 203.86 L297.19 202.71 L297.44 201.62 L297.70 200.62 L297.95 199.71 L298.21 198.91 L298.47 198.24 L298.72 197.70 L298.98 197.32 L299.23 197.08 L299.49 197.00 L299.75 197.07 L300.00 197.29 L300.26 197.65 L300.51 198.15 L300.77 198.78 L301.03 199.52 L301.28 200.36 L301.54 201.30 L301.79 202.31 L302.05 203.37 L302.31 204.48 L302.56 205.60 L302.82 206.72 L303.07 207.83 L303.33 208.89 L303.59 209.90 L303.84 210.84 L304.10 211.68 L304.35 212.42 L304.61 213.05 L304.87 213.55 L305.12 213.91 L305.38 214.13 L305.63 214.20 L305.89 214.12 L306.15 213.88 L306.40 213.49 L306.66 212.95 L306.92 212.27 L307.17 211.46 L307.43 210.54 L307.68 209.53 L307.94 208.43 L308.20 207.27 L308.45 206.07 L308.71 204.85 L308.96 203.63 L309.22 202.43 L309.48 201.27 L309.73 200.18 L309.99 199.16 L310.24 198.24 L310.50 197.43 L310.76 196.75 L311.01 196.21 L311.27 195.82 L311.52 195.58 L311.78 195.50 L312.04 195.58 L312.29 195.82 L312.55 196.21 L312.80 196.75 L313.06 197.43 L313.32 198.24 L313.57 199.16 L313.83 200.17 L314.08 201.27 L314.34 202.43 L314.60 203.63 L314.85 204.85 L315.11 206.07 L315.36 207.27 L315.62 208.43 L315.88 209.52 L316.13 210.54 L316.39 211.46 L316.64 212.27 L316.90 212.95 L317.16 213.49 L317.41 213.88 L317.67 214.12 L317.92 214.20 L318.18 214.13 L318.44 213.93 L318.69 213.59 L318.95 213.13 L319.21 212.56 L319.46 211.87 L319.72 211.09 L319.97 210.22 L320.23 209.29 L320.49 208.31 L320.74 207.29 L321.00 206.25 L321.25 205.21 L321.51 204.19 L321.77 203.21 L322.02 202.28 L322.28 201.41 L322.53 200.63 L322.79 199.94 L323.05 199.37 L323.30 198.91 L323.56 198.57 L323.81 198.37 L324.07 198.30 L324.33 198.39 L324.58 198.66 L324.84 199.10 L325.09 199.71 L325.35 200.47 L325.61 201.38 L325.86 202.41 L326.12 203.55 L326.37 204.78 L326.63 206.08 L326.89 207.43 L327.14 208.80 L327.40 210.17 L327.65 211.52 L327.91 212.82 L328.17 214.05 L328.42 215.19 L328.68 216.22 L328.93 217.13 L329.19 217.89 L329.45 218.50 L329.70 218.94 L329.96 219.21 L330.21 219.30 L330.47 219.23 L330.73 219.01 L330.98 218.64 L331.24 218.14 L331.50 217.51 L331.75 216.77 L332.01 215.92 L332.26 214.98 L332.52 213.96 L332.78 212.89 L333.03 211.78 L333.29 210.65 L333.54 209.52 L333.80 208.41 L334.06 207.34 L334.31 206.33 L334.57 205.38 L334.82 204.53 L335.08 203.79 L335.34 203.16 L335.59 202.66 L335.85 202.29 L336.10 202.07 L336.36 202.00 L336.62 202.08 L336.87 202.31 L337.13 202.69 L337.38 203.21 L337.64 203.86 L337.90 204.64 L338.15 205.52 L338.41 206.50 L338.66 207.56 L338.92 208.67 L339.18 209.83 L339.43 211.00 L339.69 212.17 L339.94 213.33 L340.20 214.44 L340.46 215.50 L340.71 216.48 L340.97 217.36 L341.22 218.14 L341.48 218.79 L341.74 219.31 L341.99 219.69 L342.25 219.92 L342.50 220.00 L342.76 219.94 L343.02 219.75 L343.27 219.43 L343.53 219.00 L343.79 218.46 L344.04 217.82 L344.30 217.09 L344.55 216.28 L344.81 215.40 L345.07 214.48 L345.32 213.52 L345.58 212.55 L345.83 211.58 L346.09 210.62 L346.35 209.70 L346.60 208.82 L346.86 208.01 L347.11 207.28 L347.37 206.64 L347.63 206.10 L347.88 205.67 L348.14 205.35 L348.39 205.16 L348.65 205.10 L348.91 205.18 L349.16 205.41 L349.42 205.79 L349.67 206.32 L349.93 206.98 L350.19 207.77 L350.44 208.66 L350.70 209.65 L350.95 210.72 L351.21 211.84 L351.47 213.01 L351.72 214.20 L351.98 215.39 L352.23 216.56 L352.49 217.68 L352.75 218.75 L353.00 219.74 L353.26 220.63 L353.51 221.42 L353.77 222.08 L354.03 222.61 L354.28 222.99 L354.54 223.22 L354.79 223.30 L355.05 223.25 L355.31 223.09 L355.56 222.83 L355.82 222.47 L356.08 222.02 L356.33 221.48 L356.59 220.87 L356.84 220.20 L357.10 219.47 L357.36 218.70 L357.61 217.91 L357.87 217.10 L358.12 216.29 L358.38 215.50 L358.64 214.73 L358.89 214.00 L359.15 213.33 L359.40 212.72 L359.66 212.18 L359.92 211.73 L360.17 211.37 L360.43 211.11 L360.68 210.95 L360.94 210.90 L361.20 210.97 L361.45 211.17 L361.71 211.51 L361.96 211.98 L362.22 212.56 L362.48 213.26 L362.73 214.05 L362.99 214.93 L363.24 215.87 L363.50 216.87 L363.76 217.90 L364.01 218.95 L364.27 220.00 L364.52 221.03 L364.78 222.03 L365.04 222.97 L365.29 223.85 L365.55 224.64 L365.80 225.34 L366.06 225.92 L366.32 226.39 L366.57 226.73 L366.83 226.93 L367.08 227.00 L367.34 226.94 L367.60 226.76 L367.85 226.46 L368.11 226.06 L368.37 225.54 L368.62 224.94 L368.88 224.24 L369.13 223.47 L369.39 222.65 L369.65 221.77 L369.90 220.87 L370.16 219.95 L370.41 219.03 L370.67 218.13 L370.93 217.25 L371.18 216.43 L371.44 215.66 L371.69 214.96 L371.95 214.36 L372.21 213.84 L372.46 213.44 L372.72 213.14 L372.97 212.96 L373.23 212.90 L373.49 212.97 L373.74 213.18 L374.00 213.53 L374.25 214.01 L374.51 214.62 L374.77 215.33 L375.02 216.15 L375.28 217.05 L375.53 218.02 L375.79 219.05 L376.05 220.12 L376.30 221.20 L376.56 222.28 L376.81 223.35 L377.07 224.38 L377.33 225.35 L377.58 226.25 L377.84 227.07 L378.09 227.78 L378.35 228.39 L378.61 228.87 L378.86 229.22 L379.12 229.43 L379.37 229.50 L379.63 229.42 L379.89 229.18 L380.14 228.78 L380.40 228.23 L380.66 227.54 L380.91 226.72 L381.17 225.78 L381.42 224.75 L381.68 223.64 L381.94 222.46 L382.19 221.24 L382.45 220.00 L382.70 218.76 L382.96 217.54 L383.22 216.36 L383.47 215.25 L383.73 214.22 L383.98 213.28 L384.24 212.46 L384.50 211.77 L384.75 211.22 L385.01 210.82 L385.26 210.58 L385.52 210.50 L385.71 210.55 L385.91 210.71 L386.10 210.98 L386.30 211.34 L386.50 211.81 L386.69 212.37 L386.88 213.01 L387.08 213.74 L387.27 214.54 L387.47 215.41 L387.66 216.34 L387.86 217.32 L388.06 218.33 L388.25 219.38 L388.44 220.44 L388.64 221.51 L388.83 222.58 L389.03 223.63 L389.22 224.67 L389.42 225.66 L389.62 226.62 L389.81 227.52 L390.00 228.36 L390.20 229.12" stroke="#00f" stroke-width="1.9" stroke-dasharray="1.9 4.35" stroke-dashoffset="-0.85"/>
</g>
<g shape-rendering="crispEdges">
<rect x="41" y="244" width="349" height="1" fill="#a0a0a0"/>
<rect x="389" y="1" width="1" height="244" fill="#aaaaaa"/>
<rect x="40" y="0" width="1" height="246" fill="#959595"/>
<rect x="40" y="1" width="351" height="1" fill="#8f8f8f"/>
<rect x="40" y="0" width="351" height="1" fill="#8b8b8b"/>
<rect x="41" y="1" width="1" height="245" fill="#898989"/>
<rect x="390" y="1" width="1" height="245" fill="#878787"/>
<rect x="41" y="245" width="350" height="1" fill="#858585"/>
</g>
<g stroke="#1a1a1a" stroke-width="0.9">
<line x1="84.74" y1="244.85" x2="84.74" y2="241.25"/>
<line x1="84.74" y1="0.90" x2="84.74" y2="4.50"/>
<line x1="128.38" y1="244.85" x2="128.38" y2="238.15"/>
<line x1="128.38" y1="0.90" x2="128.38" y2="7.60"/>
<line x1="172.01" y1="244.85" x2="172.01" y2="241.25"/>
<line x1="172.01" y1="0.90" x2="172.01" y2="4.50"/>
<line x1="215.65" y1="244.85" x2="215.65" y2="238.15"/>
<line x1="215.65" y1="0.90" x2="215.65" y2="7.60"/>
<line x1="259.29" y1="244.85" x2="259.29" y2="241.25"/>
<line x1="259.29" y1="0.90" x2="259.29" y2="4.50"/>
<line x1="302.93" y1="244.85" x2="302.93" y2="238.15"/>
<line x1="302.93" y1="0.90" x2="302.93" y2="7.60"/>
<line x1="346.56" y1="244.85" x2="346.56" y2="241.25"/>
<line x1="346.56" y1="0.90" x2="346.56" y2="4.50"/>
<line x1="41.10" y1="224.52" x2="44.70" y2="224.52"/>
<line x1="390.20" y1="224.52" x2="386.60" y2="224.52"/>
<line x1="41.10" y1="204.19" x2="47.80" y2="204.19"/>
<line x1="390.20" y1="204.19" x2="383.50" y2="204.19"/>
<line x1="41.10" y1="183.86" x2="44.70" y2="183.86"/>
<line x1="390.20" y1="183.86" x2="386.60" y2="183.86"/>
<line x1="41.10" y1="163.53" x2="47.80" y2="163.53"/>
<line x1="390.20" y1="163.53" x2="383.50" y2="163.53"/>
<line x1="41.10" y1="143.20" x2="44.70" y2="143.20"/>
<line x1="390.20" y1="143.20" x2="386.60" y2="143.20"/>
<line x1="41.10" y1="122.87" x2="47.80" y2="122.87"/>
<line x1="390.20" y1="122.87" x2="383.50" y2="122.87"/>
<line x1="41.10" y1="102.55" x2="44.70" y2="102.55"/>
<line x1="390.20" y1="102.55" x2="386.60" y2="102.55"/>
<line x1="41.10" y1="82.22" x2="47.80" y2="82.22"/>
<line x1="390.20" y1="82.22" x2="383.50" y2="82.22"/>
<line x1="41.10" y1="61.89" x2="44.70" y2="61.89"/>
<line x1="390.20" y1="61.89" x2="386.60" y2="61.89"/>
<line x1="41.10" y1="41.56" x2="47.80" y2="41.56"/>
<line x1="390.20" y1="41.56" x2="383.50" y2="41.56"/>
<line x1="41.10" y1="21.23" x2="44.70" y2="21.23"/>
<line x1="390.20" y1="21.23" x2="386.60" y2="21.23"/>
</g>
<g>
<text x="38.1" y="45.76" text-anchor="end" font-size="13">0.25</text>
<text x="38.1" y="86.42" text-anchor="end" font-size="13">0.2</text>
<text x="38.1" y="127.08" text-anchor="end" font-size="13">0.15</text>
<text x="38.1" y="167.73" text-anchor="end" font-size="13">0.1</text>
<text x="38.1" y="208.39" text-anchor="end" font-size="13">0.05</text>
<text x="38.1" y="249.05" text-anchor="end" font-size="13">0</text>
<text x="41.30" y="260.3" text-anchor="middle" font-size="17">0</text>
<text x="128.57" y="260.3" text-anchor="middle" font-size="17">2</text>
<text x="215.85" y="260.3" text-anchor="middle" font-size="17">4</text>
<text x="303.12" y="260.3" text-anchor="middle" font-size="17">6</text>
<text x="390.40" y="260.3" text-anchor="middle" font-size="17">8</text>
</g>
<text transform="translate(12.6 128.2) rotate(-90)" font-size="16.8">&#916;</text>
<text x="189.0" y="273.8" font-size="15.1"><tspan font-style="italic">t</tspan> [<tspan font-style="italic">h/(Jp)</tspan>]</text>
<!-- legend -->
<rect x="240.2" y="122.6" width="120.8" height="55" fill="#fff" stroke="#6e6e6e" stroke-width="1.1"/>
<line x1="243.9" y1="132.7" x2="258" y2="132.7" stroke="#000" stroke-width="2"/>
<line x1="243.9" y1="149.5" x2="258" y2="149.5" stroke="#f00" stroke-width="2" stroke-dasharray="8.2 4.5"/>
<line x1="244.3" y1="166.3" x2="258.5" y2="166.3" stroke="#00f" stroke-width="1.9" stroke-dasharray="1.9 4.3"/>
<g font-size="15.25">
<text x="266" y="137"><tspan font-style="italic">p</tspan>=0.75, <tspan font-style="italic">N</tspan>=200</text>
<text x="266" y="153.8"><tspan font-style="italic">p</tspan>=0.1, <tspan font-style="italic">N</tspan>=200</text>
<text x="266" y="170.6"><tspan font-style="italic">p</tspan>=0.01, <tspan font-style="italic">N</tspan>=200</text>
</g>
<!-- annotations -->
<text x="84.7" y="38.1" font-size="14.9"><tspan font-style="italic">p</tspan>&gt;<tspan font-style="italic">p</tspan><tspan font-size="10.5" dy="5.3">c</tspan><tspan dy="-5.3">, spin-ordered</tspan></text>
<text x="49.1" y="230.7" font-size="14.9"><tspan font-style="italic">p</tspan>&lt;<tspan font-style="italic">p</tspan><tspan font-size="10.5" dy="5.3">c</tspan><tspan dy="-5.3">, decohering</tspan></text>
<line x1="129.00" y1="41.00" x2="156.76" y2="61.35" stroke="#000" stroke-width="1.35"/><polygon points="161.20,64.60 154.66,62.53 157.26,58.98" fill="#000"/>
<line x1="69.00" y1="217.70" x2="78.10" y2="183.02" stroke="#000" stroke-width="1.35"/><polygon points="79.50,177.70 79.98,184.55 75.72,183.43" fill="#000"/>
<line x1="72.00" y1="217.70" x2="113.06" y2="171.22" stroke="#000" stroke-width="1.35"/><polygon points="116.70,167.10 114.05,173.43 110.75,170.51" fill="#000"/>
</svg>
</body></html>
